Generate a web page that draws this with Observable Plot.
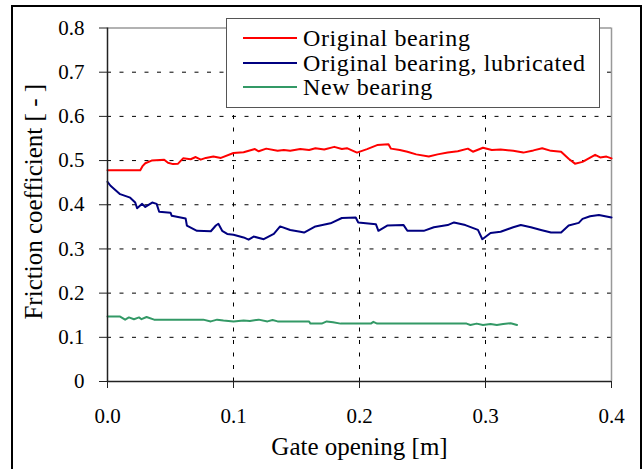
<!DOCTYPE html>
<html>
<head>
<meta charset="utf-8">
<script src="https://cdn.jsdelivr.net/npm/d3@7"></script>
<script src="https://cdn.jsdelivr.net/npm/@observablehq/plot@0.6"></script>
<style>
  html, body { margin: 0; padding: 0; background: #fff; overflow: hidden; }
  #wrap { position: relative; width: 643px; height: 469px; overflow: hidden; font-family: "Liberation Serif", "Times New Roman", serif; }
  #frame { position: absolute; left: 11px; top: 5px; width: 627px; height: 480px; border: 2px solid #000; pointer-events: none; }
  #legend { position: absolute; left: 226px; top: 18px; width: 372px; height: 88px; border: 1.5px solid #555; background: #fff; }
  .row { position: absolute; left: 0; height: 24px; display: flex; align-items: center; }
  .swatch { width: 54px; height: 2px; margin-left: 16px; margin-right: 6px; }
  .lbl { font-size: 24px; line-height: 24px; color: #000; letter-spacing: 0.6px; white-space: nowrap; }
</style>
</head>
<body>
<div id="wrap"></div>
<script>
// ---- Data ----
const origX = [0,0.026,0.028,0.030,0.035,0.045,0.048,0.052,0.056,0.06,0.066,0.07,0.074,0.078,0.084,0.09,0.1,0.108,0.117,0.12,0.126,0.135,0.14,0.145,0.153,0.16,0.165,0.172,0.18,0.186,0.19,0.198,0.206,0.214,0.223,0.225,0.232,0.238,0.245,0.255,0.262,0.27,0.278,0.286,0.29,0.298,0.305,0.312,0.322,0.33,0.338,0.345,0.352,0.36,0.366,0.371,0.377,0.382,0.387,0.391,0.396,0.4];
const origY = [0.478,0.478,0.488,0.494,0.500,0.502,0.495,0.492,0.493,0.505,0.503,0.508,0.502,0.506,0.509,0.506,0.517,0.519,0.526,0.521,0.527,0.522,0.524,0.522,0.526,0.524,0.528,0.525,0.531,0.526,0.528,0.518,0.526,0.535,0.537,0.527,0.524,0.52,0.514,0.509,0.514,0.518,0.521,0.527,0.52,0.529,0.524,0.525,0.522,0.518,0.523,0.528,0.522,0.52,0.504,0.493,0.497,0.505,0.513,0.507,0.509,0.505];

const lubX = [0,0.0024,0.01,0.018,0.022,0.0235,0.0275,0.030,0.0355,0.039,0.041,0.05,0.051,0.062,0.063,0.071,0.082,0.086,0.088,0.091,0.095,0.1,0.108,0.112,0.116,0.124,0.132,0.137,0.145,0.153,0.156,0.165,0.177,0.186,0.197,0.199,0.213,0.215,0.222,0.235,0.238,0.251,0.259,0.27,0.275,0.284,0.294,0.2975,0.304,0.312,0.322,0.328,0.336,0.344,0.352,0.36,0.366,0.374,0.377,0.383,0.39,0.4];
const lubY = [0.452,0.443,0.424,0.416,0.405,0.392,0.402,0.395,0.405,0.402,0.384,0.382,0.375,0.369,0.353,0.341,0.340,0.353,0.357,0.341,0.334,0.332,0.326,0.321,0.328,0.322,0.334,0.351,0.343,0.339,0.337,0.351,0.358,0.370,0.371,0.360,0.356,0.341,0.353,0.354,0.341,0.341,0.349,0.354,0.360,0.354,0.343,0.322,0.336,0.339,0.349,0.354,0.349,0.343,0.337,0.337,0.353,0.359,0.368,0.374,0.377,0.371];

const newX = [0,0.01,0.014,0.017,0.021,0.025,0.027,0.031,0.037,0.076,0.082,0.087,0.092,0.1,0.108,0.113,0.12,0.127,0.131,0.135,0.16,0.161,0.17,0.174,0.179,0.185,0.209,0.211,0.214,0.285,0.288,0.293,0.298,0.304,0.309,0.314,0.32,0.325];
const newY = [0.147,0.147,0.140,0.145,0.141,0.145,0.141,0.146,0.140,0.140,0.136,0.140,0.138,0.136,0.138,0.137,0.140,0.136,0.139,0.136,0.136,0.131,0.131,0.136,0.134,0.131,0.131,0.135,0.131,0.131,0.128,0.131,0.128,0.130,0.128,0.130,0.132,0.128];

const seriesNames = ["Original bearing", "Original bearing, lubricated", "New bearing"];
const seriesColors = ["#ff0000", "#000080", "#339966"];

const xTicks = [0, 0.1, 0.2, 0.3, 0.4];
const xTickLabels = ["0.0", "0.1", "0.2", "0.3", "0.4"];
const yTicks = [0, 0.1, 0.2, 0.3, 0.4, 0.5, 0.6, 0.7, 0.8];
const yTickLabels = ["0", "0.1", "0.2", "0.3", "0.4", "0.5", "0.6", "0.7", "0.8"];
const xGridVals = [0.1, 0.2, 0.3];
const yGridVals = [0.1, 0.2, 0.3, 0.4, 0.5, 0.6, 0.7];
const xTitle = "Gate opening [m]";
const yTitle = "Friction coefficient [ - ]";

// ---- Build table ----
const toRows = (xs, ys, s) => xs.map((x, i) => ({x, y: ys[i], s}));
const rows = [
  ...toRows(origX, origY, seriesNames[0]),
  ...toRows(lubX, lubY, seriesNames[1]),
  ...toRows(newX, newY, seriesNames[2])
];

const dash = "4,8.5";
const chart = Plot.plot({
  width: 643,
  height: 469,
  marginLeft: 107,
  marginRight: 32,
  marginTop: 27.5,
  marginBottom: 88,
  style: { fontFamily: "Liberation Serif, Times New Roman, serif", fontSize: "21px", background: "transparent", color: "#000", overflow: "visible" },
  x: { domain: [0, 0.4] },
  y: { domain: [0, 0.8] },
  color: { domain: seriesNames, range: seriesColors },
  marks: [
    Plot.ruleY(yGridVals, { stroke: "#000", strokeWidth: 1, strokeDasharray: dash }),
    Plot.ruleX(xGridVals, { stroke: "#000", strokeWidth: 1, strokeDasharray: dash }),
    Plot.ruleY([0.8], { stroke: "#999", strokeWidth: 1.5 }),
    Plot.ruleX([0.4], { stroke: "#999", strokeWidth: 1.5 }),
    Plot.lineY(rows, { x: "x", y: "y", z: "s", stroke: "s", strokeWidth: 2 }),
    Plot.ruleY([0], { stroke: "#222", strokeWidth: 1.5 }),
    Plot.ruleX([0], { stroke: "#222", strokeWidth: 1.5 }),
    Plot.axisY({ ticks: yTicks, tickFormat: (d) => yTickLabels[yTicks.indexOf(d)], tickSize: 8, tickPadding: 15, label: null, stroke: "#222" }),
    Plot.axisX({ ticks: xTicks, tickFormat: (d) => xTickLabels[xTicks.indexOf(d)], tickSize: 7, tickPadding: 20, label: null, stroke: "#222" }),
    Plot.text([xTitle], { frameAnchor: "bottom", dy: 73, lineAnchor: "bottom", fontSize: 25, text: d => d }),
    Plot.text([yTitle], { frameAnchor: "left", rotate: -90, dx: -83, dy: -3, lineAnchor: "top", textAnchor: "middle", fontSize: 25, text: d => d })
  ]
});

const wrap = document.getElementById("wrap");
wrap.appendChild(chart);
chart.style.position = "absolute";
chart.style.left = "0";
chart.style.top = "0";

const frame = document.createElement("div");
frame.id = "frame";
wrap.appendChild(frame);

const legend = document.createElement("div");
legend.id = "legend";
seriesNames.forEach((name, i) => {
  const row = document.createElement("div");
  row.className = "row";
  row.style.top = (7 + i * 24.5) + "px";
  const sw = document.createElement("div");
  sw.className = "swatch";
  sw.style.background = seriesColors[i];
  const t = document.createElement("span");
  t.className = "lbl";
  t.textContent = name;
  row.appendChild(sw);
  row.appendChild(t);
  legend.appendChild(row);
});
wrap.appendChild(legend);
</script>
</body>
</html>
